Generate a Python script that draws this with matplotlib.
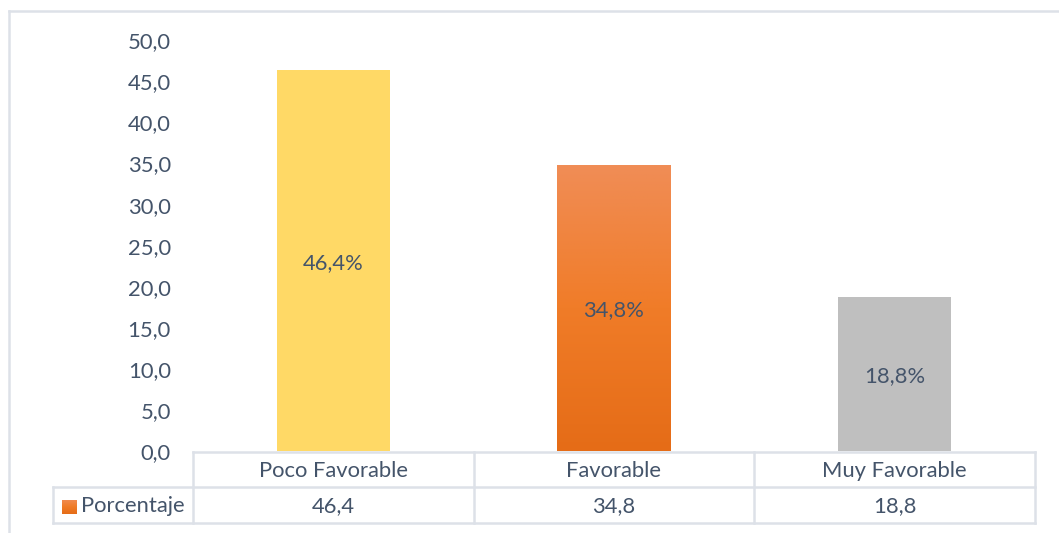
import matplotlib
matplotlib.use("Agg")
import matplotlib.pyplot as plt
import numpy as np
from matplotlib.colors import LinearSegmentedColormap
from matplotlib.lines import Line2D

categories = ["Poco Favorable", "Favorable", "Muy Favorable"]
values = [46.4, 34.8, 18.8]
series_name = "Porcentaje"
yticks = [0, 5, 10, 15, 20, 25, 30, 35, 40, 45, 50]

TXT = "#44546A"
GRID = "#DDE1E8"
FONT = ["Lato", "DejaVu Sans"]
plt.rcParams["font.family"] = FONT

W, H = 1059, 533
fig = plt.figure(figsize=(W / 100, H / 100), dpi=100)

def fx(px):
    return px / W

def fy(py):
    return 1 - py / H

# outer chart border
fig.add_artist(Line2D([fx(8.5), fx(8.5)], [fy(11), fy(533)], color=GRID, lw=1.8))
fig.add_artist(Line2D([fx(8.5), fx(1058)], [fy(11), fy(11)], color=GRID, lw=1.8))

x_left, x_right = 193, 1035
y_zero, y_top = 451, 40.4
ax = fig.add_axes([fx(x_left), fy(y_zero), (x_right - x_left) / W, (y_zero - y_top) / H])
for s in ax.spines.values():
    s.set_visible(False)
ax.set_xticks([])
ax.set_yticks(yticks)
ax.set_yticklabels([f"{t:.1f}".replace(".", ",") for t in yticks], color=TXT, fontsize=15.8)
ax.tick_params(axis="y", length=0, pad=16)

x = np.arange(len(categories))
bars = ax.bar(x, values, width=0.403, color=["#FFD966", "none", "#BFBFBF"], edgecolor="none", zorder=2)

# gradient for the orange bar
orange = LinearSegmentedColormap.from_list("org", ["#E56C17", "#F07C28", "#F08D56"])
b = bars[1]
grad = np.linspace(0, 1, 256).reshape(-1, 1)
ax.imshow(grad, cmap=orange, origin="lower", aspect="auto",
          extent=(b.get_x(), b.get_x() + b.get_width(), 0, b.get_height()), zorder=2)
ax.set_xlim(-0.5, len(categories) - 0.5)
ax.set_ylim(0, 50)

for xi, v in zip(x, values):
    ax.text(xi, v / 2 - 0.3, f"{v:.1f}%".replace(".", ","), ha="center", va="center",
            color=TXT, fontsize=15.8, zorder=3)

# data table
cat_w = (x_right - x_left) / len(categories)
r0, r1, r2 = 452, 487, 523
leg_left = 53
lw = 1.8
fig.add_artist(Line2D([fx(x_left), fx(x_right)], [fy(r0), fy(r0)], color=GRID, lw=lw))
for ry in (r1, r2):
    fig.add_artist(Line2D([fx(leg_left), fx(x_right)], [fy(ry), fy(ry)], color=GRID, lw=lw))
fig.add_artist(Line2D([fx(leg_left), fx(leg_left)], [fy(r1), fy(r2)], color=GRID, lw=lw))
for i in range(len(categories) + 1):
    xx = x_left + i * cat_w
    fig.add_artist(Line2D([fx(xx), fx(xx)], [fy(r0), fy(r2)], color=GRID, lw=lw))

for i, (c, v) in enumerate(zip(categories, values)):
    cx = x_left + (i + 0.5) * cat_w
    fig.text(fx(cx), fy((r0 + r1) / 2 + 1.5), c, ha="center", va="center", color=TXT, fontsize=15.8)
    fig.text(fx(cx), fy((r1 + r2) / 2 + 1.5), f"{v:.1f}".replace(".", ","), ha="center",
             va="center", color=TXT, fontsize=15.8)

# legend key in table
sw = fig.add_axes([fx(62), fy(514), 14 / W, 14 / H])
sw.imshow(grad, cmap=orange, origin="lower", aspect="auto", extent=(0, 1, 0, 1))
sw.set_axis_off()
fig.text(fx(81), fy((r1 + r2) / 2 + 1.5), series_name, ha="left", va="center", color=TXT, fontsize=15.8)

fig.savefig("out.png", dpi=100, facecolor="white")
